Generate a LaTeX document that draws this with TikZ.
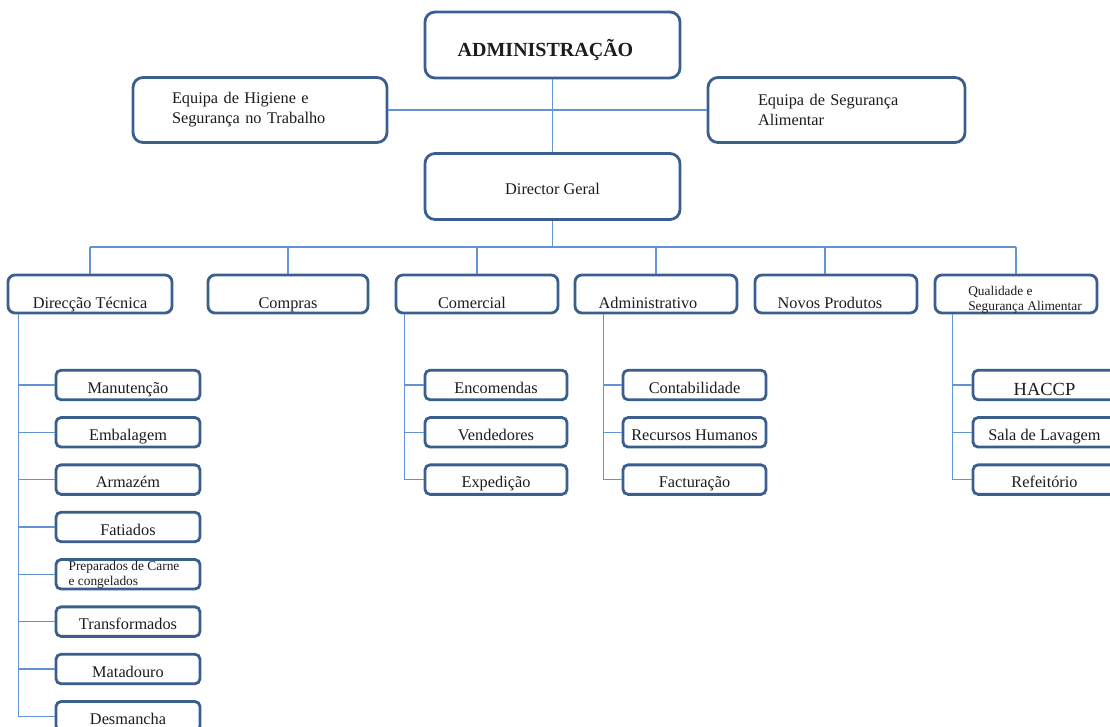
\documentclass[tikz,border=0pt]{standalone}
\usepackage{fontspec}
\setmainfont{Liberation Serif}
\usetikzlibrary{calc}

\definecolor{boxline}{HTML}{3A5F8E}
\definecolor{linkline}{HTML}{6393D6}
\definecolor{ink}{HTML}{1C1C1C}

\tikzset{
  unit/.style={draw=boxline, line width=2.8pt, fill=white, text=ink,
    inner xsep=3pt, inner ysep=0pt},
  topbox/.style={unit, rounded corners=10pt, minimum width=255pt, minimum height=66pt},
  sidebox/.style={unit, rounded corners=10pt, minimum height=65pt, align=left,
    font=\fontsize{16.3}{20}\selectfont},
  deptbox/.style={unit, rounded corners=7pt, minimum height=38pt, minimum width=162pt,
    font=\fontsize{16.3}{20}\selectfont, text height=28pt, text depth=0pt},
  subbox/.style={unit, rounded corners=5pt, minimum height=29.5pt, minimum width=143pt,
    font=\fontsize{16.3}{20}\selectfont, text height=16pt, text depth=0pt},
  smalltext/.style={font=\fontsize{13.4}{15}\selectfont, align=left,
    text height=, text depth=},
  conn/.style={draw=linkline, line width=1.3pt},
}

\begin{document}
\begin{tikzpicture}[x=1pt, y=-1pt]
\useasboundingbox (0,0) rectangle (1110,727);

% top of the chart
\node[topbox, font=\bfseries\fontsize{20}{24}\selectfont, text height=24pt, text depth=0pt]
  (admin) at (552.5,45) {ADMINISTRAÇÃO\hspace*{14pt}};
\node[sidebox, minimum width=254pt, inner xsep=39pt, text width=176pt]
  (hig) at (260,110) {Equipa de Higiene e\\Segurança no Trabalho};
\node[sidebox, minimum width=257pt, inner xsep=50pt, text width=157pt]
  (seg) at (836.5,110) {Equipa de Segurança\\Alimentar};
\node[topbox, font=\fontsize{16.3}{20}\selectfont, text height=16pt, text depth=0pt]
  (dg) at (552.5,186.5) {Director Geral};

% departments
\node[deptbox, minimum width=164pt] (dt) at (90,294) {Direcção Técnica};
\node[deptbox, minimum width=160pt] (cp) at (288,294) {Compras};
\node[deptbox] (cm) at (477,294) {Comercial\hspace*{10pt}};
\node[deptbox] (ad) at (656,294) {Administrativo\hspace*{16pt}};
\node[deptbox] (np) at (836,294) {Novos Produtos\hspace*{12pt}};
\node[deptbox, smalltext] (qs) at (1016,294)
  {\hspace*{18pt}\rule{0pt}{20pt}Qualidade e\\\hspace*{18pt}Segurança Alimentar};

% technical direction units
\node[subbox, minimum width=144pt] (t1) at (128,385) {Manutenção};
\node[subbox, minimum width=144pt] (t2) at (128,432.3) {Embalagem};
\node[subbox, minimum width=144pt] (t3) at (128,479.6) {Armazém};
\node[subbox, minimum width=144pt] (t4) at (128,527) {Fatiados};
\node[subbox, minimum width=144pt, smalltext] (t5) at (128,574.3)
  {Preparados de Carne\hspace*{8pt}\\e congelados};
\node[subbox, minimum width=144pt] (t6) at (128,621.6) {Transformados};
\node[subbox, minimum width=144pt] (t7) at (128,669) {Matadouro};
\node[subbox, minimum width=144pt] (t8) at (128,716.3) {Desmancha};

% commercial units
\node[subbox, minimum width=142pt] (c1) at (496,385) {Encomendas};
\node[subbox, minimum width=142pt] (c2) at (496,432.3) {Vendedores};
\node[subbox, minimum width=142pt] (c3) at (496,479.6) {Expedição};

% administrative units
\node[subbox] (a1) at (694.5,385) {Contabilidade};
\node[subbox] (a2) at (694.5,432.3) {Recursos Humanos};
\node[subbox] (a3) at (694.5,479.6) {Facturação};

% quality units
\node[subbox, font=\fontsize{18.5}{22}\selectfont, text height=20pt] (q1) at (1044.5,385) {HACCP};
\node[subbox] (q2) at (1044.5,432.3) {Sala de Lavagem};
\node[subbox] (q3) at (1044.5,479.6) {Refeitório};

% links between the top boxes
\draw[conn] (admin.south) -- (dg.north);
\draw[conn] (hig.east) -- (seg.west);

% department bus
\coordinate (bus) at (552.5,247);
\draw[conn] (dg.south) -- (bus);
\draw[conn] (dt.north |- bus) -- (qs.north |- bus);
\coordinate (npdrop) at ($(np.north)+(-11,0)$);
\foreach \d in {dt,cp,cm,ad,qs} \draw[conn] (\d.north |- bus) -- (\d.north);
\draw[conn] (npdrop |- bus) -- (npdrop);

% rails to the units
\coordinate (dtr) at ($(dt.south west)+(12,0)$);
\coordinate (cmr) at ($(cm.south west)+(10,0)$);
\coordinate (adr) at ($(ad.south west)+(30,0)$);
\coordinate (qsr) at ($(qs.south west)+(19,0)$);

\draw[conn] (dtr) |- (t8.west);
\foreach \u in {t1,t2,t3,t4,t5,t6,t7} \draw[conn] (\u.west -| dtr) -- (\u.west);
\draw[conn] (cmr) |- (c3.west);
\foreach \u in {c1,c2} \draw[conn] (\u.west -| cmr) -- (\u.west);
\draw[conn] (adr) |- (a3.west);
\foreach \u in {a1,a2} \draw[conn] (\u.west -| adr) -- (\u.west);
\draw[conn] (qsr) |- (q3.west);
\foreach \u in {q1,q2} \draw[conn] (\u.west -| qsr) -- (\u.west);
\end{tikzpicture}
\end{document}
